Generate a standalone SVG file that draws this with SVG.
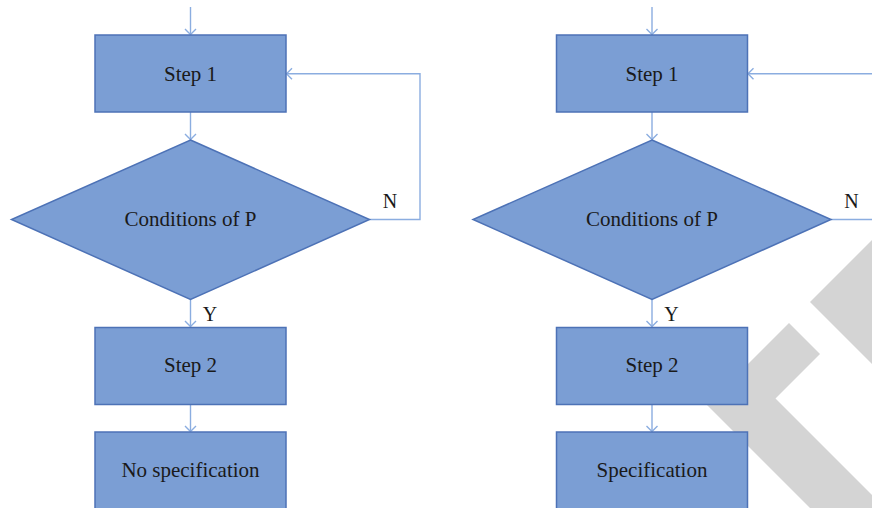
<svg xmlns="http://www.w3.org/2000/svg" width="872" height="508" viewBox="0 0 872 508">
  <style>
    .box { fill: #7b9ed4; stroke: #4d72b6; stroke-width: 1.5; }
    .lbl { font-family: "Liberation Serif", "DejaVu Serif", serif; font-size: 21px; fill: #1a1a1a; text-anchor: middle; }
    .yn { font-family: "Liberation Serif", "DejaVu Serif", serif; font-size: 20px; fill: #1a1a1a; text-anchor: middle; }
    .conn { fill: none; stroke: #8badE0; stroke-width: 1.4; }
    .wm { fill: #d4d4d4; }
  </style>
  <defs>
    <marker id="arr" viewBox="-7 -7 14 14" markerUnits="userSpaceOnUse" markerWidth="14" markerHeight="14" refX="0" refY="0" orient="auto">
      <path d="M-5.5,-5.5 L0,0 L-5.5,5.5" fill="none" stroke="#8badE0" stroke-width="1.4"/>
    </marker>
  </defs>
  <rect width="872" height="508" fill="#ffffff"/>
  <g id="watermark">
    <polygon class="wm" points="707,405 789,323 820,354 775.5,398.5 960,583 960,658"/>
    <polygon class="wm" points="810,302 900,212 900,392"/>
  </g>

  <g id="left-chart">
    <g id="connectors-left">
      <path class="conn" d="M190.5,7 V34.5" marker-end="url(#arr)"/>
      <path class="conn" d="M190.5,112 V139.5" marker-end="url(#arr)"/>
      <path class="conn" d="M369.5,219.5 H420 V73.7 H286.5" marker-end="url(#arr)"/>
      <path class="conn" d="M190.5,299.5 V326.5" marker-end="url(#arr)"/>
      <path class="conn" d="M190.5,404.5 V431.5" marker-end="url(#arr)"/>
    </g>
    <g id="L-step1">
      <rect class="box" x="95" y="35" width="191" height="77"/>
      <text class="lbl" x="190.5" y="80.5">Step 1</text>
    </g>
    <g id="L-cond">
      <polygon class="box" points="190.5,140 369.5,219.5 190.5,299.5 11.5,219.5"/>
      <text class="lbl" x="190.5" y="226">Conditions of P</text>
    </g>
    <g id="L-step2">
      <rect class="box" x="95" y="327.5" width="191" height="77"/>
      <text class="lbl" x="190.5" y="372">Step 2</text>
    </g>
    <g id="L-nospec">
      <rect class="box" x="95" y="432" width="191" height="78"/>
      <text class="lbl" x="190.5" y="477">No specification</text>
    </g>
    <text class="yn" x="390" y="208">N</text>
    <text class="yn" x="210" y="321">Y</text>
  </g>

  <g id="right-chart">
    <g id="connectors-right">
      <path class="conn" d="M652,7 V34.5" marker-end="url(#arr)"/>
      <path class="conn" d="M652,112 V139.5" marker-end="url(#arr)"/>
      <path class="conn" d="M831,219.5 H881.5 V73.7 H748" marker-end="url(#arr)"/>
      <path class="conn" d="M652,299.5 V326.5" marker-end="url(#arr)"/>
      <path class="conn" d="M652,404.5 V431.5" marker-end="url(#arr)"/>
    </g>
    <g id="R-step1">
      <rect class="box" x="556.5" y="35" width="191" height="77"/>
      <text class="lbl" x="652" y="80.5">Step 1</text>
    </g>
    <g id="R-cond">
      <polygon class="box" points="652,140 831,219.5 652,299.5 473,219.5"/>
      <text class="lbl" x="652" y="226">Conditions of P</text>
    </g>
    <g id="R-step2">
      <rect class="box" x="556.5" y="327.5" width="191" height="77"/>
      <text class="lbl" x="652" y="372">Step 2</text>
    </g>
    <g id="R-spec">
      <rect class="box" x="556.5" y="432" width="191" height="78"/>
      <text class="lbl" x="652" y="477">Specification</text>
    </g>
    <text class="yn" x="851.5" y="208">N</text>
    <text class="yn" x="671.5" y="321">Y</text>
  </g>
</svg>
